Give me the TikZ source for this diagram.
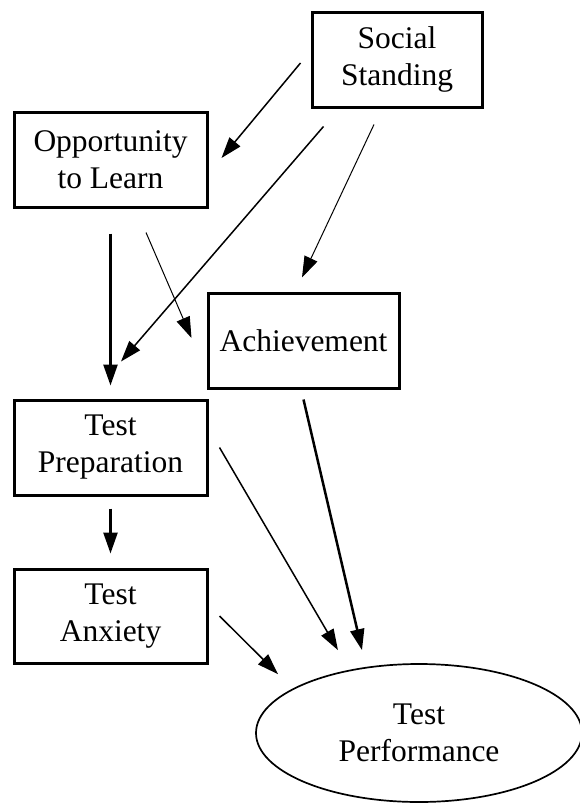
\documentclass[tikz,border=0pt]{standalone}
\usepackage{fontspec}
\setmainfont{Liberation Serif}
\usetikzlibrary{arrows.meta,shapes.geometric}

\begin{document}
\begin{tikzpicture}[x=1pt,y=1pt,
	varbox/.style={draw, rectangle, line width=3pt, minimum width=193pt, minimum height=95pt,
		inner sep=0pt, align=center, font=\fontsize{31.5}{37}\selectfont},
	outcome/.style={draw, ellipse, line width=1.7pt, minimum width=326pt, minimum height=138pt,
		inner sep=0pt, align=center, font=\fontsize{31.5}{37}\selectfont},
	slimarrow/.style={line width=1pt, -{Triangle[length=21pt,width=14pt]}},
	midarrow/.style={slimarrow, line width=1.5pt},
	boldarrow/.style={slimarrow, line width=2.5pt}
	]
	\useasboundingbox (0,0) rectangle (580,-803);
	
	\node[varbox, minimum width=170pt] (soc) at (397,-59.5) {Social\\Standing};
	\node[varbox] (opp) at (110.5,-159.5) {Opportunity\\to Learn};
	\node[varbox, minimum width=191pt] (ach) at (303.5,-340.5) {Achievement};
	\node[varbox] (prep) at (110.5,-447.5) {Test\\Preparation};
	\node[varbox, minimum height=94pt] (anx) at (110.5,-616) {Test\\Anxiety};
	\node[outcome] (perf) at (419,-733) {Test\\Performance};
	
	% paths from social standing
	\draw[midarrow] ([shift={(-10,-3.5)}]soc.west) -- ([shift={(13,1.5)}]opp.east);
	\draw[midarrow] ([shift={(13,-18)}]soc.south west) -- ([shift={(10.5,37)}]prep.north);
	\draw[slimarrow] ([shift={(-23,-16)}]soc.south) -- ([shift={(-1.5,14)}]ach.north);
	
	\draw[slimarrow] ([shift={(35.5,-24)}]opp.south) -- ([shift={(-15,2.5)}]ach.west);
	\draw[boldarrow] ([yshift=-25]opp.south) -- ([yshift=13]prep.north);
	\draw[boldarrow] ([yshift=-12]prep.south) -- ([yshift=14]anx.north);
	
	% into test performance
	\draw[midarrow] ([xshift=11]prep.east) -- ([shift={(-81,13)}]perf.north);
	\draw[boldarrow] ([yshift=-10]ach.south) -- ([shift={(-57,13)}]perf.north);
	\draw[midarrow] ([xshift=11]anx.east) -- ([shift={(-141,-11)}]perf.north);
\end{tikzpicture}
\end{document}
